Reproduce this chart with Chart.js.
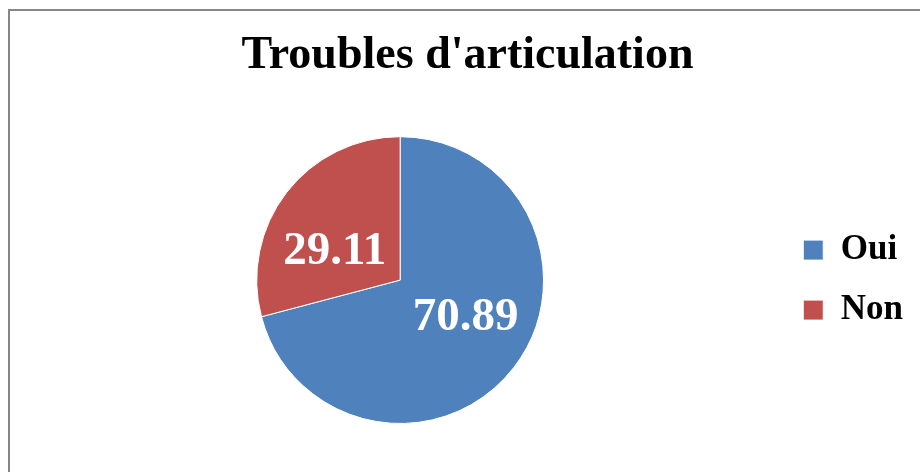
<!DOCTYPE html>
<html>
<head>
<meta charset="utf-8">
<script src="https://cdn.jsdelivr.net/npm/chart.js@4.4.1/dist/chart.umd.min.js"></script>
<style>
  html, body { margin: 0; padding: 0; background: #fff; overflow: hidden; }
  #frame {
    position: absolute; left: 8px; top: 9px;
    width: 1000px; height: 1000px;
    border-left: 2px solid #868686; border-top: 2px solid #868686;
  }
  #wrap { position: absolute; left: 0; top: 0; width: 920px; height: 472px; }
</style>
</head>
<body>
<div id="frame"></div>
<div id="wrap"><canvas id="pieChart"></canvas></div>
<script>
const categories = ['Oui', 'Non'];
const values = [70.89, 29.11];
const sliceColors = ['#4F81BD', '#C0504D'];

const serif = '"Liberation Serif", "Times New Roman", serif';

// draw the value of each slice inside it
const sliceValues = {
    id: 'sliceValues',
    afterDatasetsDraw(chart) {
        const ctx = chart.ctx;
        const meta = chart.getDatasetMeta(0);
        ctx.save();
        ctx.font = 'bold 47px ' + serif;
        ctx.fillStyle = '#ffffff';
        ctx.textAlign = 'center';
        ctx.textBaseline = 'middle';
        meta.data.forEach((arc, i) => {
            const p = arc.getProps(['x', 'y', 'startAngle', 'endAngle', 'outerRadius'], true);
            const mid = (p.startAngle + p.endAngle) / 2 - 11 * Math.PI / 180;
            const r = p.outerRadius * 0.51;
            ctx.fillText(values[i].toFixed(2), p.x + Math.cos(mid) * r, p.y + Math.sin(mid) * r + 5);
        });
        ctx.restore();
    }
};

const ctx = document.getElementById('pieChart').getContext('2d');
new Chart(ctx, {
    type: 'pie',
    data: {
        labels: categories,
        datasets: [{
            data: values,
            backgroundColor: sliceColors,
            borderColor: '#ffffff',
            borderWidth: 1
        }]
    },
    options: {
        responsive: true,
        maintainAspectRatio: false,
        animation: false,
        layout: {
            padding: { left: 22, right: 7, top: 10, bottom: 48 }
        },
        plugins: {
            title: {
                display: true,
                text: "Troubles d'articulation",
                color: '#000000',
                font: { family: serif, size: 46, weight: 'bold' },
                padding: { top: 19, bottom: 52 }
            },
            legend: {
                position: 'right',
                fullSize: false,
                labels: {
                    color: '#000000',
                    font: { family: serif, size: 35, weight: 'bold' },
                    boxWidth: 20,
                    boxHeight: 20,
                    padding: 25
                }
            },
            tooltip: { enabled: false }
        }
    },
    plugins: [sliceValues]
});
</script>
</body>
</html>
